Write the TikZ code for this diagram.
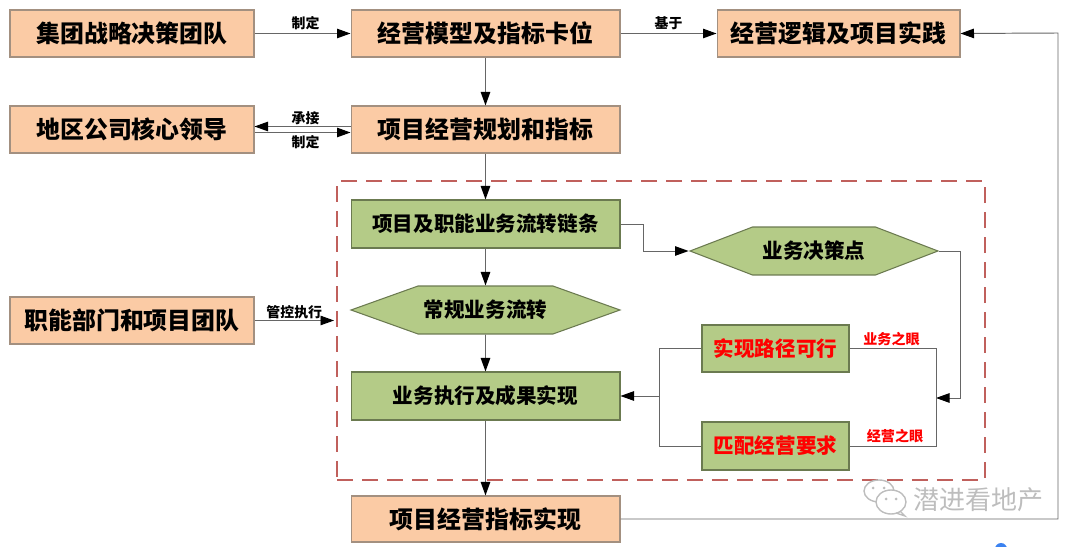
\documentclass[tikz,border=0pt]{standalone}
\usepackage{fontspec}
\setmainfont{Noto Sans CJK SC}
\usetikzlibrary{arrows.meta,shapes.symbols,calc}
\definecolor{orangefill}{HTML}{FBCBA5}
\definecolor{orangeline}{HTML}{A39080}
\definecolor{greenfill}{HTML}{B4CB87}
\definecolor{greenline}{HTML}{6B7A50}
\definecolor{dashred}{HTML}{C0605C}
\definecolor{linegray}{HTML}{666666}
\definecolor{markgray}{HTML}{BDBDBD}
\definecolor{dotblue}{HTML}{3B82F0}
\tikzset{
	orangebox/.style={draw=orangeline,fill=orangefill,line width=.6pt,inner sep=0pt,font=\fontsize{13.6pt}{15pt}\selectfont\bfseries},
	greenbox/.style={draw=greenline,fill=greenfill,line width=.6pt,inner sep=0pt,font=\fontsize{11.7pt}{14pt}\selectfont\bfseries},
	hexbox/.style={greenbox,shape=signal,signal to=east and west},
	redtext/.style={text=red},
	small label/.style={font=\fontsize{7.9pt}{9pt}\selectfont\bfseries,inner sep=0pt,text=black},
	red label/.style={font=\fontsize{8pt}{9pt}\selectfont\bfseries,text=red,inner sep=0pt},
	link/.style={draw=linegray,line width=.55pt},
	arrowlink/.style={link,-{Triangle[black,length=2.7mm,width=1.9mm]}},
}
\begin{document}
\begin{tikzpicture}[x=.02cm,y=-.02cm]
	\useasboundingbox (0,0) rectangle (1080,547);
	\node (dashframe) at (661,330.5) [draw=dashred,line width=1.3pt,dash pattern=on 3.2mm off 1.8mm,minimum width=12.96cm,minimum height=5.98cm,inner sep=0pt] {};
	\node (jituan) at (132,33.5) [orangebox,minimum width=4.88cm,minimum height=.94cm] {集团战略决策团队};
	\node (moxing) at (485.5,33.5) [orangebox,minimum width=5.38cm,minimum height=.94cm] {经营模型及指标卡位};
	\node (luoji) at (838.5,33.5) [orangebox,minimum width=4.86cm,minimum height=.94cm] {经营逻辑及项目实践};
	\node (diqu) at (132,129.5) [orangebox,minimum width=4.88cm,minimum height=.94cm] {地区公司核心领导};
	\node (guihua) at (485.5,129.5) [orangebox,minimum width=5.38cm,minimum height=.94cm] {项目经营规划和指标};
	\node (zhineng) at (132,320.5) [orangebox,minimum width=4.88cm,minimum height=.94cm] {职能部门和项目团队};
	\node (shixian) at (485.5,519) [orangebox,minimum width=5.38cm,minimum height=.92cm] {项目经营指标实现};
	\node (liantiao) at (485.5,224) [greenbox,minimum width=5.38cm,minimum height=.96cm] {项目及职能业务流转链条};
	\node (changgui) at (485.5,310) [hexbox,signal pointer angle=39.4,minimum width=5.38cm,minimum height=.96cm] {常规业务流转};
	\node (zhixing) at (485.5,396) [greenbox,minimum width=5.38cm,minimum height=.96cm] {业务执行及成果实现};
	\node (juece) at (814,251) [hexbox,signal pointer angle=42,minimum width=4.96cm,minimum height=.96cm] {业务决策点};
	\node (lujing) at (775.5,348.5) [greenbox,redtext,minimum width=2.94cm,minimum height=.94cm] {实现路径可行};
	\node (pipei) at (775.5,446) [greenbox,redtext,minimum width=2.94cm,minimum height=.96cm] {匹配经营要求};
	\coordinate (busright) at (936,398);
	\coordinate (busleft) at (659,396);
	\coordinate (rightturn) at (1058,33);
	\draw[arrowlink] (jituan.east) -- (moxing.west) node[midway,above=1.6pt,xshift=.06cm,small label] {制定};
	\draw[arrowlink] (moxing.east) -- (luoji.west) node[midway,above=1.6pt,small label] {基于};
	\draw[arrowlink] (moxing) -- (guihua);
	\draw[arrowlink] ($(guihua.west)+(0,-3)$) -- ($(diqu.east)+(0,-3)$) node[midway,above=.6pt,xshift=.06cm,small label] {承接};
	\draw[arrowlink] ($(diqu.east)+(0,3)$) -- ($(guihua.west)+(0,3)$) node[midway,below=1.2pt,xshift=.06cm,small label] {制定};
	\draw[arrowlink] (guihua) -- (liantiao);
	\draw[arrowlink] (liantiao) -- (changgui);
	\draw[arrowlink] (changgui) -- (zhixing);
	\draw[arrowlink] (zhixing) -- (shixian);
	\draw[arrowlink] (liantiao.east) -- (643,224) -- (643,251) -- (juece.west);
	\draw[arrowlink] (juece.east) -- (960,251) -- (960,398) -- (busright);
	\draw[link] (lujing.east) -- (busright|-lujing.east) -- (busright|-pipei.east) -- (pipei.east);
	\draw[link] (lujing.west) -- (busleft|-lujing.west) -- (busleft|-pipei.west) -- (pipei.west);
	\draw[arrowlink] (busleft) -- (zhixing.east|-busleft);
	\draw[arrowlink] (zhineng.east) -- (334,320.5) node[midway,above=.4pt,small label] {管控执行};
	\draw[arrowlink] (shixian.east) -- (rightturn|-shixian.east) -- (rightturn) -- (luoji.east);
	\node (yanone) at (891.5,339) [red label] {业务之眼};
	\node (yantwo) at (895,436) [red label] {经营之眼};
	\node (watermark) at (978.5,500) [font=\fontsize{14.8pt}{16pt}\selectfont,text=markgray,inner sep=0pt] {潜进看地产};
	\draw[markgray,line width=.8pt] (879,491) ellipse [x radius=15,y radius=11];
	\draw[markgray,line width=.8pt,fill=white] (891,502) ellipse [x radius=15,y radius=12];
	\draw[markgray,line width=.8pt] (900,511) -- (905,516) -- (896,513);
	\fill[markgray] (873,488) circle [radius=1.5] (884,488) circle [radius=1.5] (886,499) circle [radius=1.5] (896,499) circle [radius=1.5];
	\fill[dotblue] (1001,549) circle [radius=6];
\end{tikzpicture}
\end{document}
